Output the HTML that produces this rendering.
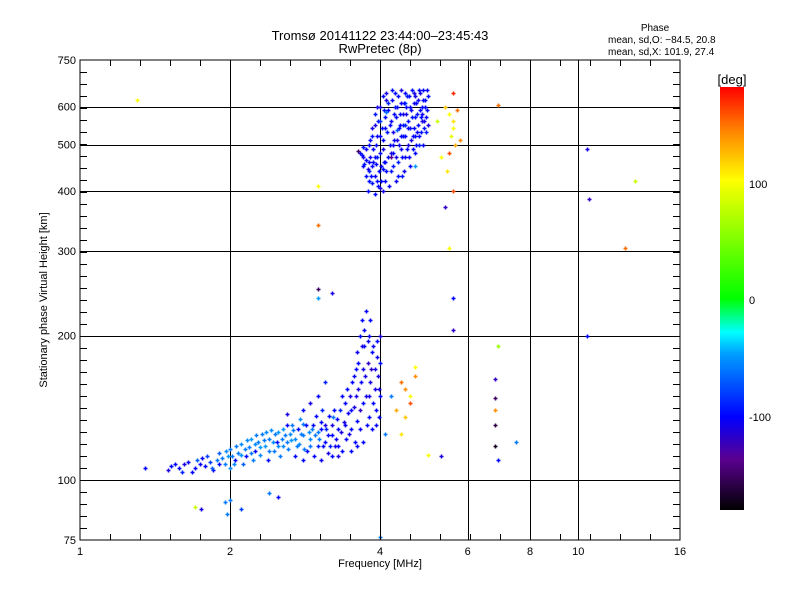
<!DOCTYPE html>
<html><head><meta charset="utf-8">
<style>
body{margin:0;background:#fff;}
svg{display:block;font-family:"Liberation Sans",sans-serif;}
</style></head>
<body>
<svg id="chart" width="800" height="600" viewBox="0 0 800 600" xmlns="http://www.w3.org/2000/svg">
<defs>
<linearGradient id="cb" x1="0" y1="1" x2="0" y2="0">
<stop offset="0" stop-color="#000000"/>
<stop offset="0.12" stop-color="#5a0090"/>
<stop offset="0.22" stop-color="#0000ff"/>
<stop offset="0.37" stop-color="#00a0ff"/>
<stop offset="0.42" stop-color="#00ffff"/>
<stop offset="0.5" stop-color="#00ff00"/>
<stop offset="0.78" stop-color="#ffff00"/>
<stop offset="0.9" stop-color="#ff8000"/>
<stop offset="1" stop-color="#ff0000"/>
</linearGradient>
</defs>
<rect x="0" y="0" width="800" height="600" fill="#fff"/>
<text x="380" y="40" text-anchor="middle" font-size="13">Tromsø 20141122 23:44:00–23:45:43</text>
<text x="380" y="53" text-anchor="middle" font-size="13">RwPretec (8p)</text>
<text x="655" y="31" text-anchor="middle" font-size="10">Phase</text>
<text x="608" y="43" font-size="10">mean, sd,O: −84.5, 20.8</text>
<text x="608" y="55" font-size="10">mean, sd,X: 101.9, 27.4</text>
<g id="grid"></g>
<g id="points"></g>
<rect x="80" y="60" width="600" height="480" fill="none" stroke="#000" stroke-width="1"/>
<g id="axes"></g>
<text x="380" y="567" text-anchor="middle" font-size="11">Frequency [MHz]</text>
<text transform="translate(47,300) rotate(-90)" text-anchor="middle" font-size="11">Stationary phase Virtual Height [km]</text>
<rect x="720" y="87" width="24" height="423" fill="url(#cb)"/>
<text x="732" y="84" text-anchor="middle" font-size="13">[deg]</text>
<text x="749" y="188" font-size="11">100</text>
<text x="749" y="304" font-size="11">0</text>
<text x="749" y="421" font-size="11">-100</text>
</svg>
<script>
const xTickValues=[1,2,4,6,8,10,16];
const xTickLabels=["1","2","4","6","8","10","16"];
const yTickValues=[75,100,200,300,400,500,600,750];
const yTickLabels=["75","100","200","300","400","500","600","750"];
const yGridValues=[100,200,300,400,500,600];
const xGridValues=[2,4,6,8,10];
const freq=[3.65,3.7,3.72,3.75,3.8,3.8,3.82,3.85,3.88,3.9,3.9,3.92,3.95,3.95,3.97,4.0,4.0,4.02,4.05,4.05,4.08,4.1,4.1,4.12,4.15,4.15,4.18,4.2,4.2,4.22,4.25,4.25,4.28,4.3,4.3,4.32,4.35,4.35,4.38,4.4,4.4,4.42,4.45,4.45,4.48,4.5,4.5,4.52,4.55,4.58,4.6,4.6,4.62,4.65,4.68,4.7,4.7,4.72,4.75,4.78,4.8,4.82,4.85,4.88,4.9,4.92,4.95,5.0,5.0,3.78,3.85,3.9,4.0,4.05,4.12,4.33,4.5,4.2,4.7,
5.4,5.5,5.6,5.55,5.65,5.6,5.7,5.6,5.5,5.8,5.3,5.45,5.6,5.2,6.9,
1.3,3.0,3.0,3.0,3.0,3.2,5.4,5.5,5.6,5.6,10.4,10.5,10.4,12.4,13.0,6.9,
1.35,1.5,1.55,1.6,1.65,1.7,1.72,1.78,1.8,1.85,1.88,1.9,1.95,1.98,2.0,2.0,2.05,2.08,2.1,2.12,2.15,2.18,2.2,2.22,2.25,2.28,2.3,2.32,2.35,2.38,2.4,2.42,2.45,2.48,2.5,2.52,2.55,2.58,2.6,2.62,2.65,2.68,2.7,2.75,2.78,2.8,2.85,2.9,2.92,2.95,3.0,3.0,3.05,3.1,3.12,3.15,3.2,3.22,3.25,3.3,3.32,3.35,3.38,3.4,3.42,3.45,3.48,3.5,3.52,3.55,3.58,3.6,3.6,3.62,3.65,3.65,3.68,3.7,3.7,3.72,3.75,3.75,3.78,3.8,3.8,3.82,3.85,3.88,3.9,3.92,3.95,3.98,4.0,3.1,3.0,2.9,2.8,2.6,
4.2,4.3,4.4,4.5,4.6,4.7,4.4,4.6,4.7,4.1,4.5,
1.7,1.75,1.95,1.97,2.0,2.1,2.4,2.5,4.0,5.0,5.3,6.8,6.8,6.8,6.8,6.9,7.5,6.8,
3.62,3.68,3.7,3.75,3.78,3.8,3.82,3.84,3.86,3.88,3.9,3.92,3.94,3.96,3.98,4.0,4.0,4.02,4.03,4.06,4.07,4.09,4.11,4.12,4.14,4.16,4.17,4.19,4.21,4.23,4.24,4.26,4.27,4.29,4.31,4.33,4.34,4.36,4.37,4.39,4.41,4.43,4.44,4.46,4.47,4.49,4.51,4.53,4.54,4.56,4.57,4.59,4.61,4.63,4.64,4.66,4.67,4.69,4.71,4.73,4.74,4.76,4.77,4.79,4.81,4.83,4.84,4.86,4.87,4.89,4.91,4.93,4.94,4.96,4.98,3.85,3.95,4.05,3.75,3.8,3.7,3.9,4.1,4.25,4.4,4.55,4.7,4.85,
1.52,1.58,1.62,1.68,1.74,1.76,1.82,1.84,1.9,1.93,1.96,2.02,2.04,2.06,2.1,2.14,2.16,2.2,2.24,2.26,2.3,2.34,2.36,2.4,2.44,2.46,2.5,2.54,2.56,2.6,2.64,2.66,2.7,2.72,2.74,2.76,2.8,2.82,2.84,2.88,2.9,2.94,2.96,2.98,3.02,3.04,3.06,3.08,3.1,3.14,3.16,3.18,3.2,3.24,3.26,3.28,3.3,3.34,3.36,3.4,3.44,3.46,3.5,3.54,3.56,3.58,3.62,3.64,3.66,3.68,3.7,3.72,3.74,3.76,3.78,3.8,3.82,3.84,3.86,3.88,3.9,3.92,3.94,3.96,3.98,4.0,4.0,3.5,3.6,3.3,3.2,3.05,2.8];
const height=[480,470,455,490,420,440,510,540,460,580,430,500,600,470,410,520,560,450,630,490,590,420,540,640,470,610,500,560,440,650,530,480,600,420,570,510,630,460,550,490,610,430,580,520,640,470,550,600,500,630,540,450,590,520,640,480,570,610,530,650,500,590,560,620,540,600,570,630,550,400,415,395,405,445,585,535,610,470,450,
600,580,560,520,500,540,590,640,480,510,470,440,400,560,605,
620,410,340,250,240,245,370,305,240,205,490,385,200,305,420,190,
106,105,108,104,109,106,110,107,112,105,110,114,108,112,106,116,110,114,119,108,112,117,122,110,115,120,113,125,118,110,122,127,115,120,126,112,118,124,130,116,121,127,112,119,125,131,115,122,128,112,118,126,132,120,128,114,124,135,118,128,140,115,132,145,122,138,150,128,160,142,170,133,185,155,200,140,215,170,120,190,150,225,175,135,200,160,185,145,170,130,195,155,175,160,150,145,140,137,
150,140,160,135,150,165,125,145,172,125,155,
88,87,90,85,91,87,94,92,76,113,112,162,148,130,118,110,120,140,
485,475,495,465,445,500,470,430,520,490,550,455,520,560,440,480,600,420,540,510,460,570,620,440,530,590,410,550,480,620,450,580,510,640,470,600,430,540,500,580,650,470,550,610,440,520,580,490,630,560,470,600,510,650,570,490,610,540,630,500,580,550,620,520,640,570,530,600,500,650,560,620,530,590,650,450,420,400,430,460,450,470,460,500,520,540,520,580,
107,106,108,104,108,111,109,106,108,111,115,112,108,118,113,116,121,114,119,124,117,121,126,115,120,125,118,122,128,120,125,130,122,118,128,134,124,116,130,126,118,130,124,136,122,128,140,118,130,124,136,118,130,140,122,134,118,126,150,130,155,125,140,165,120,150,175,128,160,190,145,205,165,130,195,150,215,170,128,190,155,140,180,165,135,150,200,115,118,112,112,110,110];
const phase=[-100,-110,-95,-105,-100,-90,-100,-110,-100,-95,-105,-100,-110,-90,-100,-100,-80,-105,-100,-110,-95,-100,-105,-110,-100,-90,-100,-105,-95,-100,-110,-100,-95,-105,-100,-110,-100,-90,-100,-105,-100,-95,-110,-100,-100,-105,-90,-100,-110,-100,-95,-100,-105,-100,-110,-100,-95,-100,-105,-100,-90,-100,-110,-100,-95,-100,-105,-100,-110,-100,-95,-100,-110,-100,-60,-70,-65,-140,-50,
120,100,110,90,130,100,150,170,160,140,100,110,160,80,150,
100,100,150,-150,-50,-110,-120,100,-100,-120,-110,-120,-100,150,80,60,
-100,-110,-100,-90,-105,-100,-70,-100,-80,-100,-60,-70,-60,-50,-55,-60,-100,-60,-55,-70,-100,-60,-50,-60,-100,-60,-55,-60,-50,-100,-60,-55,-60,-100,-50,-60,-55,-60,-100,-60,-50,-60,-100,-55,-60,-60,-100,-55,-60,-100,-90,-60,-100,-100,-90,-110,-100,-60,-110,-100,-90,-100,-110,-100,-100,-105,-110,-100,-100,-110,-100,-100,-105,-110,-100,-120,-100,-110,-100,-100,-110,-100,-120,-100,-105,-110,-100,-100,-110,-100,-100,-110,-100,-90,-100,-110,-100,-110,-60,
130,150,120,100,140,110,160,100,-60,140,80,
-110,-60,-60,-60,-80,-60,-100,-60,100,-110,-120,-150,-160,-170,-100,-60,140,-150,
-100,-95,-100,-110,-100,-105,-100,-95,-100,-110,-100,-105,-95,-100,-100,-110,-100,-95,-100,-105,-100,-110,-100,-95,-100,-105,-100,-110,-100,-95,-100,-105,-100,-110,-100,-95,-100,-105,-100,-110,-100,-95,-100,-105,-100,-110,-100,-95,-100,-105,-100,-110,-100,-95,-100,-105,-100,-110,-100,-95,-100,-105,-100,-110,-100,-95,-100,-105,-100,-110,-100,-95,-100,-105,-100,-100,-110,-100,-105,-100,-100,-100,-105,-100,-105,-100,-105,-100,
-100,-110,-100,-105,-100,-80,-70,-100,-60,-55,-60,-55,-60,-50,-60,-55,-60,-55,-60,-50,-60,-55,-60,-55,-60,-55,-60,-50,-60,-55,-60,-55,-60,-100,-55,-60,-60,-100,-55,-60,-100,-60,-100,-60,-100,-90,-100,-110,-100,-100,-90,-110,-100,-105,-100,-100,-110,-100,-105,-100,-110,-100,-105,-100,-110,-100,-105,-100,-110,-100,-105,-110,-100,-105,-110,-100,-120,-100,-105,-110,-100,-105,-110,-100,-100,-110,-100,-100,-110,-100,-105,-100,-60];

const X0=80,X1=680,Y0=60,Y1=540;
function xs(f){return X0+(X1-X0)*Math.log2(f)/4;}
function ys(h){return Y1-(Y1-Y0)*Math.log10(h/75);}
const cstops=[[-180,[0,0,0]],[-137,[90,0,144]],[-101,[0,0,255]],[-47,[0,160,255]],[-29,[0,255,255]],[0,[0,255,0]],[101,[255,255,0]],[144,[255,128,0]],[180,[255,0,0]]];
function color(p){
  for(let i=1;i<cstops.length;i++){
    if(p<=cstops[i][0]){const a=cstops[i-1],b=cstops[i];const t=(p-a[0])/(b[0]-a[0]);
      const c=a[1].map((v,k)=>Math.round(v+(b[1][k]-v)*Math.max(0,t)));return `rgb(${c.join(',')})`;}
  }
  return 'rgb(255,0,0)';
}
const NS='http://www.w3.org/2000/svg';
function mk(tag,attrs,parent){const e=document.createElementNS(NS,tag);for(const k in attrs)e.setAttribute(k,attrs[k]);parent.appendChild(e);return e;}
const grid=document.getElementById('grid'),axes=document.getElementById('axes'),pts=document.getElementById('points');
xGridValues.forEach(v=>{const l=mk('line',{x1:Math.round(xs(v))+0.5,x2:Math.round(xs(v))+0.5,y1:Y0,y2:Y1,stroke:'#000','stroke-width':1},grid);

});
yGridValues.forEach(v=>{const l=mk('line',{x1:X0,x2:X1,y1:Math.round(ys(v))+0.5,y2:Math.round(ys(v))+0.5,stroke:'#000','stroke-width':1},grid);

});
for(let i=1;i<20;i++){const x=X0+i*30+0.5;
  const t=mk('line',{x1:x,x2:x,y1:Y1,y2:Y1-6,stroke:'#000'},axes);
  
  
  const t2=mk('line',{x1:x,x2:x,y1:Y0,y2:Y0+6,stroke:'#000'},axes);
  
  }
for(let i=1;i<40;i++){const y=Y1-i*12+0.5;
  const t=mk('line',{x1:X0,x2:X0+7,y1:y,y2:y,stroke:'#000'},axes);
  
  
  const t2=mk('line',{x1:X1,x2:X1-7,y1:y,y2:y,stroke:'#000'},axes);
  
  }
xTickValues.forEach((v,i)=>{const t=mk('text',{x:xs(v),y:555,'text-anchor':'middle','font-size':11},axes);t.textContent=xTickLabels[i];

});
yTickValues.forEach((v,i)=>{const t=mk('text',{x:76,y:ys(v)+4,'text-anchor':'end','font-size':11},axes);t.textContent=yTickLabels[i];

});
for(let i=0;i<freq.length;i++){
  const x=Math.round(xs(freq[i]))+0.5,y=Math.round(ys(height[i]))+0.5,c=color(phase[i]);
  const p=mk('path',{d:`M${x-2} ${y}H${x+2}M${x} ${y-2}V${y+2}`,stroke:c,'stroke-width':1.5},pts);
  
  
}
</script>
</body></html>
